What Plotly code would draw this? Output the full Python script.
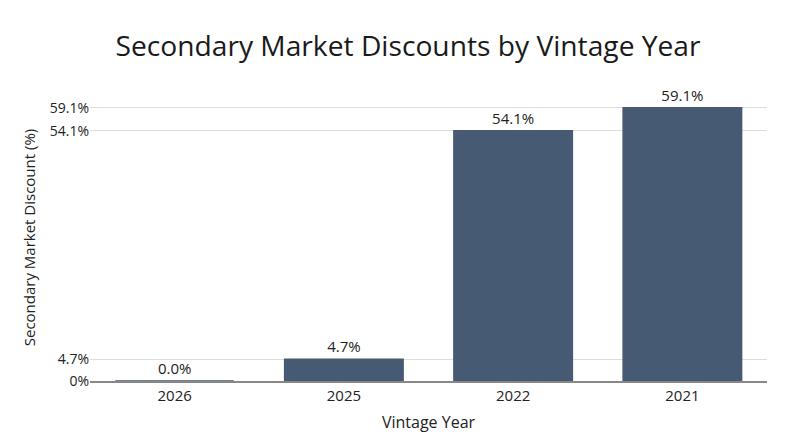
import plotly.graph_objects as go

# Data
vintage_years = ["2026", "2025", "2022", "2021"]
discounts = [0.0, 4.7, 54.1, 59.1]
tick_values = [0, 4.7, 54.1, 59.1]
tick_labels = ["0%", "4.7%", "54.1%", "59.1%"]

bar_color = "#475a73"

fig = go.Figure(
    go.Bar(
        x=vintage_years,
        y=discounts,
        marker=dict(color=bar_color, line=dict(color=bar_color, width=1.5)),
        text=[f"{v:.1f}%" for v in discounts],
        textposition="outside",
        textfont=dict(size=15, color="#222222"),
        cliponaxis=False,
    )
)

# the page body adds an 8px offset, so margins are trimmed to match
fig.update_layout(
    title=dict(
        text="Secondary Market Discounts by Vintage Year",
        x=0.5,
        xanchor="center",
        y=0.915,
        yanchor="middle",
        font=dict(size=28.2, color="#1a1a1a"),
    ),
    font=dict(family="Open Sans, sans-serif", color="#222222"),
    plot_bgcolor="white",
    paper_bgcolor="white",
    width=800,
    height=447,
    margin=dict(l=82, r=41, t=86, b=74),
    bargap=0.3,
    showlegend=False,
)

fig.update_xaxes(
    title=dict(text="Vintage Year", font=dict(size=16), standoff=13),
    type="category",
    tickfont=dict(size=15),
    showline=True,
    linecolor="#888888",
    linewidth=1.5,
    ticks="",
)

fig.update_yaxes(
    title=dict(text="Secondary Market Discount (%)", font=dict(size=15), standoff=10),
    tickmode="array",
    tickvals=tick_values,
    ticktext=tick_labels,
    tickfont=dict(size=14),
    range=[0, 62.05],
    showgrid=True,
    gridcolor="#dddddd",
    zeroline=False,
)

fig.write_html("out.html")
